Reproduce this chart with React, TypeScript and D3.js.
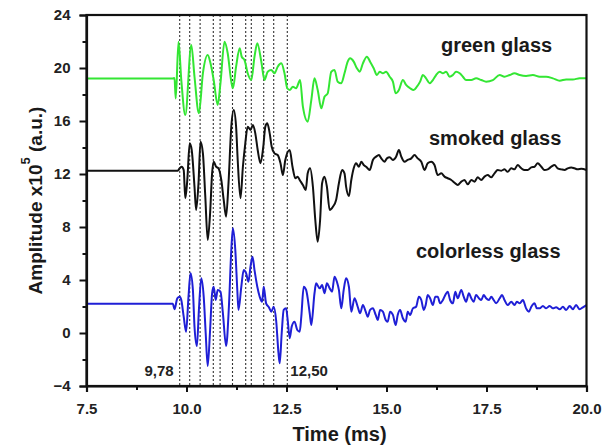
import { useEffect, useRef } from "react";
import * as d3 from "d3";

type Pt = [number, number];

// time (ms), amplitude (x10^5 a.u.)
const greenGlass: Pt[] = [
  [7.5, 19.2], [9.65, 19.2], [9.7, 19.25], [9.73, 17.7], [9.8, 21.98], [9.87, 19.09], [9.97, 16.45],
  [10.12, 21.74], [10.2, 19.34], [10.31, 16.58], [10.41, 19.6], [10.53, 20.98], [10.6, 20.35],
  [10.68, 19.09], [10.78, 17.21], [10.85, 18.87], [10.95, 21.98], [11.03, 21.11], [11.12, 18.97],
  [11.16, 18.47], [11.24, 20.1], [11.33, 21.49], [11.38, 20.85], [11.45, 20.6], [11.53, 19.6],
  [11.62, 19.09], [11.7, 20.85], [11.77, 21.86], [11.87, 20.48], [11.95, 19.09], [12.03, 19.72],
  [12.12, 19.85], [12.2, 19.6], [12.28, 20.1], [12.37, 20.35], [12.45, 19.6], [12.52, 18.47],
  [12.58, 18.34], [12.66, 18.59], [12.74, 18.47], [12.84, 19.09], [12.91, 17.08], [13.03, 15.95],
  [13.12, 17.58], [13.2, 19.22], [13.28, 18.34], [13.37, 16.96], [13.45, 17.83], [13.53, 18.09],
  [13.62, 19.72], [13.7, 19.85], [13.78, 18.97], [13.87, 18.85], [13.95, 19.6], [14.03, 20.48],
  [14.09, 20.73], [14.18, 20.48], [14.26, 19.98], [14.33, 19.72], [14.41, 20.35], [14.51, 20.85],
  [14.59, 20.48], [14.68, 19.98], [14.76, 19.47], [14.83, 19.72], [14.91, 19.6], [14.99, 19.72],
  [15.08, 19.34], [15.16, 18.97], [15.23, 18.09], [15.31, 18.34], [15.41, 19.09], [15.49, 18.72],
  [15.59, 18.47], [15.68, 18.34], [15.76, 18.59], [15.84, 18.97], [15.91, 19.47], [15.99, 19.22],
  [16.08, 18.85], [16.16, 19.09], [16.24, 19.47], [16.33, 19.72], [16.41, 19.6], [16.49, 19.72],
  [16.58, 19.34], [16.66, 19.47], [16.74, 19.72], [16.83, 19.6], [16.91, 19.34], [16.99, 19.09],
  [17.12, 19.09], [17.24, 19.22], [17.37, 19.09], [17.49, 18.97], [17.66, 19.09], [17.83, 19.47],
  [17.95, 19.34], [18.08, 19.47], [18.2, 19.6], [18.33, 19.47], [18.49, 19.4], [18.66, 19.47],
  [18.83, 19.34], [18.99, 19.34], [19.16, 19.22], [19.33, 19.04], [19.49, 19.14], [19.66, 19.14],
  [19.83, 19.22], [20, 19.22],
];

const smokedGlass: Pt[] = [
  [7.5, 12.25], [9.78, 12.25], [9.83, 12.43], [9.88, 12.55], [9.93, 12.3], [9.97, 10.17], [10.02, 11.55],
  [10.08, 14.32], [10.13, 13.81], [10.2, 11.04], [10.24, 9.28], [10.3, 11.3], [10.35, 14.44],
  [10.41, 13.56], [10.47, 10.29], [10.53, 7.02], [10.59, 9.03], [10.64, 12.05], [10.68, 12.93],
  [10.74, 12.55], [10.8, 12.43], [10.87, 11.55], [10.93, 10.04], [10.99, 8.78], [11.05, 11.3],
  [11.12, 15.57], [11.18, 16.83], [11.24, 15.57], [11.28, 13.06], [11.35, 10.17], [11.41, 12.55],
  [11.47, 14.32], [11.53, 15.57], [11.6, 15.32], [11.66, 15.7], [11.72, 15.07], [11.78, 13.81],
  [11.85, 12.81], [11.92, 14.06], [11.97, 15.57], [12.02, 15.83], [12.08, 15.07], [12.13, 14.06],
  [12.2, 13.56], [12.28, 13.43], [12.35, 12.81], [12.41, 11.92], [12.47, 13.06], [12.58, 13.81],
  [12.65, 12.55], [12.72, 11.68], [12.78, 11.8], [12.83, 11.55], [12.91, 11.17], [12.98, 10.79],
  [13.03, 12.05], [13.09, 12.43], [13.16, 11.04], [13.22, 8.53], [13.28, 6.89], [13.34, 8.53],
  [13.39, 11.3], [13.45, 11.8], [13.51, 11.04], [13.58, 9.28], [13.66, 9.53], [13.74, 10.04],
  [13.81, 11.3], [13.89, 12.3], [13.95, 12.05], [13.99, 11.04], [14.06, 10.34], [14.12, 11.55],
  [14.18, 12.43], [14.24, 12.81], [14.31, 12.55], [14.37, 12.93], [14.43, 12.68], [14.49, 12.55],
  [14.58, 12.3], [14.66, 13.06], [14.74, 13.31], [14.81, 13.43], [14.87, 13.18], [14.95, 12.93],
  [15.01, 13.18], [15.08, 13.26], [15.16, 13.06], [15.24, 13.31], [15.31, 13.81], [15.37, 13.31],
  [15.45, 12.93], [15.53, 13.06], [15.62, 13.18], [15.7, 13.43], [15.78, 13.18], [15.87, 12.93],
  [15.95, 12.3], [16.03, 12.81], [16.12, 12.93], [16.2, 12.68], [16.28, 11.92], [16.37, 12.05],
  [16.45, 11.8], [16.53, 11.68], [16.62, 11.55], [16.7, 11.34], [16.78, 11.17], [16.87, 11.42],
  [16.95, 11.55], [17.03, 11.22], [17.12, 11.55], [17.2, 11.42], [17.28, 11.75], [17.37, 11.55],
  [17.45, 11.8], [17.53, 11.92], [17.62, 11.75], [17.7, 12.05], [17.78, 12.3], [17.87, 12.25],
  [17.95, 12.35], [18.03, 12.17], [18.12, 12.43], [18.2, 12.35], [18.28, 12.68], [18.37, 12.43],
  [18.45, 12.3], [18.53, 12.3], [18.62, 12.5], [18.7, 12.55], [18.78, 12.81], [18.87, 12.55],
  [18.95, 12.3], [19.03, 12.35], [19.12, 12.55], [19.2, 12.68], [19.28, 12.43], [19.37, 12.35],
  [19.45, 12.3], [19.53, 12.43], [19.62, 12.5], [19.7, 12.43], [19.78, 12.35], [19.87, 12.4],
  [20, 12.3],
];

const colorlessGlass: Pt[] = [
  [7.5, 2.2], [9.66, 2.2], [9.7, 1.79], [9.77, 2.62], [9.83, 2.74], [9.87, 2.49], [9.93, 1.23],
  [9.99, 0.1], [10.05, 2.74], [10.1, 4.51], [10.16, 3.25], [10.2, 0.48], [10.26, -0.98], [10.31, 1.74],
  [10.37, 4.13], [10.43, 2.74], [10.48, -0.02], [10.53, -2.49], [10.59, 0.23], [10.64, 3.0],
  [10.68, 3.49], [10.73, 2.49], [10.78, 3.25], [10.85, 3.12], [10.91, 1.49], [10.99, -0.98],
  [11.06, 1.98], [11.12, 6.26], [11.16, 7.9], [11.22, 6.26], [11.27, 3.25], [11.3, 1.74],
  [11.37, 3.49], [11.43, 4.75], [11.49, 4.51], [11.55, 3.87], [11.6, 5.0], [11.65, 5.76],
  [11.7, 4.75], [11.77, 3.49], [11.83, 2.74], [11.89, 2.36], [11.93, 3.49], [11.99, 2.24],
  [12.06, 1.94], [12.12, 1.61], [12.18, 1.98], [12.24, 0.98], [12.3, -1.53], [12.33, -2.29],
  [12.38, -0.02], [12.43, 1.74], [12.49, 1.86], [12.53, 0.98], [12.58, -0.4], [12.63, 0.48],
  [12.7, 0.85], [12.77, 0.23], [12.83, 0.1], [12.87, 1.23], [12.93, 3.49], [12.99, 3.25],
  [13.08, 1.49], [13.12, 0.6], [13.2, 3.0], [13.24, 3.75], [13.33, 3.37], [13.39, 3.62],
  [13.45, 3.0], [13.51, 3.75], [13.58, 3.37], [13.64, 3.12], [13.7, 4.25], [13.76, 3.87],
  [13.81, 3.25], [13.87, 1.86], [13.93, 3.25], [13.99, 4.13], [14.06, 3.49], [14.12, 1.61],
  [14.2, 2.62], [14.28, 1.98], [14.34, 1.49], [14.41, 2.11], [14.48, 1.61], [14.53, 1.23],
  [14.59, 1.74], [14.66, 1.86], [14.73, 1.36], [14.78, 0.98], [14.84, 1.74], [14.91, 1.61],
  [14.98, 0.98], [15.03, 0.85], [15.09, 1.61], [15.16, 1.36], [15.23, 0.6], [15.28, 1.36],
  [15.34, 1.74], [15.41, 1.11], [15.48, 0.85], [15.53, 1.61], [15.59, 1.36], [15.66, 1.86],
  [15.74, 1.98], [15.81, 2.74], [15.87, 2.49], [15.93, 1.74], [15.98, 2.11], [16.03, 2.87],
  [16.09, 2.62], [16.16, 2.11], [16.22, 2.74], [16.28, 2.74], [16.34, 2.24], [16.41, 2.49],
  [16.47, 2.87], [16.53, 3.12], [16.59, 2.49], [16.66, 2.24], [16.72, 3.12], [16.78, 2.62],
  [16.87, 3.25], [16.93, 2.74], [16.99, 2.36], [17.06, 3.0], [17.12, 2.62], [17.18, 2.36],
  [17.24, 2.87], [17.31, 2.62], [17.37, 2.49], [17.43, 2.87], [17.49, 2.62], [17.56, 2.49],
  [17.62, 2.74], [17.68, 2.49], [17.74, 2.24], [17.83, 2.62], [17.89, 2.87], [17.95, 2.49],
  [18.03, 2.11], [18.12, 2.36], [18.2, 2.11], [18.26, 2.36], [18.33, 2.24], [18.41, 2.49],
  [18.49, 1.86], [18.56, 1.61], [18.62, 1.98], [18.7, 2.24], [18.76, 1.86], [18.83, 1.86],
  [18.91, 2.04], [18.99, 1.86], [19.08, 2.04], [19.16, 1.86], [19.24, 1.94], [19.33, 1.79],
  [19.41, 1.98], [19.49, 1.74], [19.58, 2.04], [19.66, 1.79], [19.74, 2.11], [19.83, 1.79],
  [19.91, 1.94], [20, 2.11],
];

const seriesNames = ["green glass", "smoked glass", "colorless glass"];
const seriesColors = ["#33e633", "#111111", "#1f1fd6"];

// dashed time markers (ms)
const markers = [9.83, 10.08, 10.34, 10.67, 10.84, 11.15, 11.48, 11.62, 11.93, 12.18, 12.52];
const markerLabels = ["9,78", "12,50"];

const xTicks = [7.5, 10, 12.5, 15, 17.5, 20];
const xMinor = [8.75, 11.25, 13.75, 16.25, 18.75];
const yTicks = [-4, 0, 4, 8, 12, 16, 20, 24];
const yMinor = [-2, 2, 6, 10, 14, 18, 22];

const font = "'Liberation Sans', Arial, sans-serif";

function renderChart(el: SVGSVGElement) {
  const svg = d3.select(el);
  svg.selectAll("*").remove();

  const left = 86.5, right = 586.5, top = 15, bottom = 386;
  const x = d3.scaleLinear().domain([7.5, 20]).range([left, right]);
  const y = d3.scaleLinear().domain([-4, 24]).range([bottom, top]);

  // dashed markers
  svg.append("g")
    .selectAll("line")
    .data(markers)
    .join("line")
    .attr("x1", (d) => x(d))
    .attr("x2", (d) => x(d))
    .attr("y1", top)
    .attr("y2", bottom)
    .attr("stroke", "#333")
    .attr("stroke-width", 1.1)
    .attr("stroke-dasharray", "2,2");

  // signals
  const line = d3.line<Pt>().x((d) => x(d[0])).y((d) => y(d[1])).curve(d3.curveMonotoneX);
  [greenGlass, smokedGlass, colorlessGlass].forEach((s, i) => {
    svg.append("path")
      .datum(s)
      .attr("d", line)
      .attr("fill", "none")
      .attr("stroke", seriesColors[i])
      .attr("stroke-width", 2)
      .attr("stroke-linejoin", "round");
  });

  // frame
  svg.append("rect")
    .attr("x", left).attr("y", top)
    .attr("width", right - left).attr("height", bottom - top)
    .attr("fill", "none").attr("stroke", "#111").attr("stroke-width", 2.2);

  // x axis
  const gx = svg.append("g").attr("transform", `translate(0,${bottom})`);
  gx.call(d3.axisBottom(x).tickValues(xTicks).tickFormat(d3.format(".1f")).tickSize(6).tickPadding(11));
  svg.append("g").attr("transform", `translate(0,${bottom})`)
    .call(d3.axisBottom(x).tickValues(xMinor).tickFormat(() => "").tickSize(4))
    .call((g) => g.select(".domain").remove());

  // y axis
  const gy = svg.append("g").attr("transform", `translate(${left},0)`);
  gy.call(d3.axisLeft(y).tickValues(yTicks).tickFormat(d3.format("d")).tickSize(7).tickPadding(9));
  svg.append("g").attr("transform", `translate(${left},0)`)
    .call(d3.axisLeft(y).tickValues(yMinor).tickFormat(() => "").tickSize(4))
    .call((g) => g.select(".domain").remove());

  svg.selectAll(".domain").attr("stroke", "#111").attr("stroke-width", 2.2);
  svg.selectAll(".tick line").attr("stroke", "#111").attr("stroke-width", 2);
  svg.selectAll(".tick text")
    .attr("font-family", font)
    .attr("font-size", 15)
    .attr("font-weight", "bold")
    .attr("fill", "#222");

  // marker labels
  svg.append("text")
    .attr("x", x(markers[0]) - 6).attr("y", 376)
    .attr("text-anchor", "end")
    .attr("font-family", font).attr("font-size", 15).attr("font-weight", "bold").attr("fill", "#222")
    .text(markerLabels[0]);
  svg.append("text")
    .attr("x", x(markers[markers.length - 1]) + 3).attr("y", 376)
    .attr("font-family", font).attr("font-size", 15).attr("font-weight", "bold").attr("fill", "#222")
    .text(markerLabels[1]);

  // series labels
  const labelPos = [[441, 52], [429, 145], [416, 258]];
  seriesNames.forEach((n, i) => {
    svg.append("text")
      .attr("x", labelPos[i][0]).attr("y", labelPos[i][1])
      .attr("font-family", font).attr("font-size", 20).attr("font-weight", "bold").attr("fill", "#1a1a1a")
      .text(n);
  });

  // axis titles
  svg.append("text")
    .attr("x", (left + right) / 2 + 3).attr("y", 441)
    .attr("text-anchor", "middle")
    .attr("font-family", font).attr("font-size", 20).attr("font-weight", "bold").attr("fill", "#1a1a1a")
    .text("Time (ms)");

  const yt = svg.append("text")
    .attr("transform", `translate(42,${(top + bottom) / 2}) rotate(-90)`)
    .attr("text-anchor", "middle")
    .attr("font-family", font).attr("font-size", 19).attr("font-weight", "bold").attr("fill", "#1a1a1a");
  yt.append("tspan").text("Amplitude x10");
  yt.append("tspan").attr("font-size", 13).attr("dy", -12).text("5");
  yt.append("tspan").attr("dy", 12).text(" (a.u.)");
}

export default function App() {
  const ref = useRef<SVGSVGElement>(null);
  useEffect(() => {
    if (ref.current) renderChart(ref.current);
  }, []);
  return (
    <svg
      ref={ref}
      width={613}
      height={448}
      style={{ position: "absolute", left: 0, top: 0, background: "#fff" }}
    />
  );
}
